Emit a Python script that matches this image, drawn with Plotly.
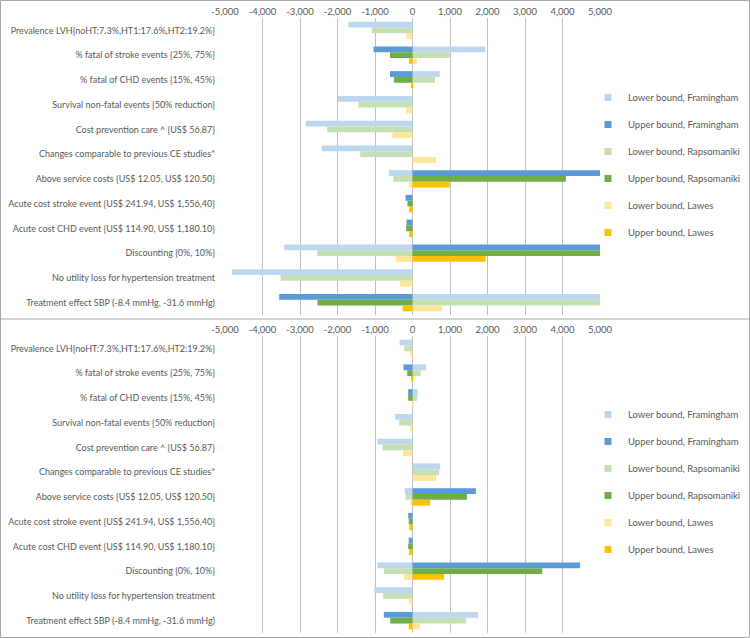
import plotly.graph_objects as go

categories = [
    "Prevalence LVH{noHT:7.3%,HT1:17.6%,HT2:19.2%}",
    "% fatal of stroke events {25%, 75%}",
    "% fatal of CHD events {15%, 45%}",
    "Survival non-fatal events {50% reduction}",
    "Cost prevention care ^ {US$ 56.87}",
    "Changes comparable to previous CE studies*",
    "Above service costs {US$ 12.05, US$ 120.50}",
    "Acute cost stroke event {US$ 241.94, US$ 1,556,40}",
    "Acute cost CHD event {US$ 114.90, US$ 1,180.10}",
    "Discounting {0%, 10%}",
    "No utility loss for hypertension treatment",
    "Treatment effect SBP (-8.4 mmHg, -31.6 mmHg)",
]

series_names = [
    "Lower bound, Framingham", "Upper bound, Framingham",
    "Lower bound, Rapsomaniki", "Upper bound, Rapsomaniki",
    "Lower bound, Lawes", "Upper bound, Lawes",
]

# ---- top panel values ----
top_lower_fram = [-1710, 1940, 730, -1990, -2845, -2420, -630, 0, 0, -3420, -4820, 5000]
top_upper_fram = [0, -1040, -600, 0, 0, 0, 5000, -185, -160, 5000, 0, -3555]
top_lower_raps = [-1085, 990, 600, -1440, -2275, -1395, -505, 0, 0, -2540, -3520, 5000]
top_upper_raps = [0, -600, -490, 0, 0, 0, 4090, -135, -170, 5000, 0, -2535]
top_lower_lawes = [-170, 115, 40, -170, -535, 630, -105, 0, 0, -445, -330, 790]
top_upper_lawes = [0, -90, -40, 0, 0, 0, 990, -90, -90, 1955, 0, -265]

# ---- bottom panel values ----
bot_lower_fram = [-345, 365, 140, -460, -940, 740, -205, 0, 0, -935, -1020, 1750]
bot_upper_fram = [0, -240, -115, 0, 0, 0, 1690, -115, -100, 4470, 0, -765]
bot_lower_raps = [-220, 215, 125, -355, -800, 710, -185, 0, 0, -765, -780, 1430]
bot_upper_raps = [0, -140, -115, 0, 0, 0, 1450, -100, -115, 3460, 0, -595]
bot_lower_lawes = [-60, 35, 20, -60, -250, 630, -55, 0, 0, -220, -100, 205]
bot_upper_lawes = [0, -30, 0, 0, 0, 0, 470, -80, -90, 845, 0, -100]

tick_vals = [-5000, -4000, -3000, -2000, -1000, 0, 1000, 2000, 3000, 4000, 5000]
tick_text = ["-5,000", "-4,000", "-3,000", "-2,000", "-1,000", "0",
             "1,000", "2,000", "3,000", "4,000", "5,000"]

colors = ["#BDD7EE", "#5B9BD5", "#C5E0B4", "#70AD47", "#FFE699", "#FFC000"]
groups = ["F", "F", "R", "R", "L", "L"]

top_series = [top_lower_fram, top_upper_fram, top_lower_raps,
              top_upper_raps, top_lower_lawes, top_upper_lawes]
bot_series = [bot_lower_fram, bot_upper_fram, bot_lower_raps,
              bot_upper_raps, bot_lower_lawes, bot_upper_lawes]

fig = go.Figure()
panels = [("x", "y", "legend", "t", top_series),
          ("x2", "y2", "legend2", "b", bot_series)]
for xa, ya, leg, tag, series in panels:
    for i, (name, vals) in enumerate(zip(series_names, series)):
        fig.add_trace(go.Bar(
            y=categories, x=vals, orientation="h", name=name,
            marker=dict(color=colors[i], line=dict(width=0)),
            offsetgroup=groups[i], legendgroup=tag + str(i),
            showlegend=False, xaxis=xa, yaxis=ya,
        ))
    # legend entries with small square keys, like the original
    for i, name in enumerate(series_names):
        fig.add_trace(go.Scatter(
            x=[None], y=[None], mode="markers", name=name,
            marker=dict(symbol="square", size=7, color=colors[i]),
            legendgroup=tag + str(i), xaxis=xa, yaxis=ya, legend=leg,
            hoverinfo="skip",
        ))

text_color = "#595959"
font_family = "Lato, sans-serif"
FS = 9.5

xcommon = dict(
    range=[-5000, 5000], side="top", tickvals=tick_vals, ticktext=tick_text,
    tickangle=0,
    showgrid=True, gridcolor="#BFBFBF", gridwidth=1,
    zeroline=True, zerolinecolor="#BFBFBF", zerolinewidth=1,
    showline=False, ticks="", tickfont=dict(size=FS, color=text_color),
    fixedrange=True, automargin=False,
)
ycommon = dict(
    autorange="reversed", showgrid=False, ticks="", showline=False,
    tickfont=dict(size=9, color=text_color), ticklabelstandoff=9,
    automargin=False, fixedrange=True,
)

T, B = 18, 5
H = 638 - T - B

def px_x(p):
    return (p - 225) / 375.0

def px_y(p):
    return 1 - (p - T) / float(H)

legend_common = dict(
    xanchor="left", yanchor="middle",
    font=dict(size=FS, color=text_color), tracegroupgap=8,
    traceorder="grouped", itemwidth=30, bgcolor="rgba(0,0,0,0)",
)

fig.update_layout(
    width=750, height=638,
    margin=dict(l=225, r=150, t=T, b=B, autoexpand=False),
    paper_bgcolor="white", plot_bgcolor="white",
    font=dict(family=font_family, color=text_color, size=FS),
    barmode="group", bargap=0.295, bargroupgap=0,
    xaxis=dict(**xcommon, anchor="y"),
    yaxis=dict(**ycommon, domain=[px_y(315), 1.0], anchor="x"),
    xaxis2=dict(**xcommon, anchor="y2"),
    yaxis2=dict(**ycommon, domain=[0.0, px_y(336)], anchor="x2"),
    legend=dict(x=px_x(588), y=px_y(165), **legend_common),
    legend2=dict(x=px_x(588), y=px_y(482), **legend_common),
    showlegend=True,
)

# chart borders (outer frame and separator between the two panels)
border = dict(color="#A6A6A6", width=1)
fig.add_shape(type="rect", xref="paper", yref="paper",
              x0=px_x(0.5), x1=px_x(749.5), y0=px_y(637.5), y1=px_y(0.5),
              line=border, layer="below")
fig.add_shape(type="line", xref="paper", yref="paper",
              x0=px_x(0.5), x1=px_x(749.5), y0=px_y(319), y1=px_y(319),
              line=border, layer="below")

fig.write_html("out.html", config={"displayModeBar": False},
               post_script="document.body.style.margin='0';"
               "document.body.style.overflow='hidden';")
